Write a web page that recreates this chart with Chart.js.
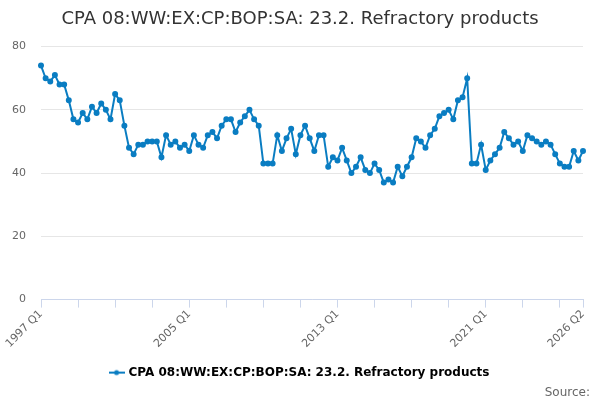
<!DOCTYPE html>
<html>
<head>
<meta charset="utf-8">
<script src="https://cdn.jsdelivr.net/npm/chart.js@4"></script>
<style>
  html, body { margin: 0; padding: 0; background: #fff; }
  #wrap { width: 600px; height: 400px; }
</style>
</head>
<body>
<div id="wrap"><canvas id="chart" width="600" height="400"></canvas></div>
<script>
// Quarterly series, 1997 Q1 .. 2026 Q2
const firstYear = 1997;
const values = [
  74, 70, 69, 71, 68, 68, 63, 57, 56, 59,
  57, 61, 59, 62, 60, 57, 65, 63, 55, 48,
  46, 49, 49, 50, 50, 50, 45, 52, 49, 50,
  48, 49, 47, 52, 49, 48, 52, 53, 51, 55,
  57, 57, 53, 56, 58, 60, 57, 55, 43, 43,
  43, 52, 47, 51, 54, 46, 52, 55, 51, 47,
  52, 52, 42, 45, 44, 48, 44, 40, 42, 45,
  41, 40, 43, 41, 37, 38, 37, 42, 39, 42,
  45, 51, 50, 48, 52, 54, 58, 59, 60, 57,
  63, 64, 70, 43, 43, 49, 41, 44, 46, 48,
  53, 51, 49, 50, 47, 52, 51, 50, 49, 50,
  49, 46, 43, 42, 42, 47, 44, 47
];
const quarters = values.map((v, i) => (firstYear + Math.floor(i / 4)) + ' Q' + (i % 4 + 1));
const shownLabels = ['1997 Q1', '2005 Q1', '2013 Q1', '2021 Q1', '2026 Q2'];
const yTicks = [0, 20, 40, 60, 80];

const seriesName = 'CPA 08:WW:EX:CP:BOP:SA: 23.2. Refractory products';
const lineColor = '#0a7dc2';

// legend icon: short line with a dot
const icon = document.createElement('canvas');
icon.width = 16; icon.height = 8;
const ic = icon.getContext('2d');
ic.strokeStyle = lineColor; ic.lineWidth = 2;
ic.beginPath(); ic.moveTo(0, 4); ic.lineTo(16, 4); ic.stroke();
ic.fillStyle = lineColor;
ic.beginPath(); ic.arc(8, 4, 2.5, 0, Math.PI * 2); ic.fill();

const lastIdx = values.length - 1;

new Chart(document.getElementById('chart'), {
  type: 'line',
  data: {
    labels: quarters,
    datasets: [{
      label: seriesName,
      data: values,
      borderColor: lineColor,
      backgroundColor: lineColor,
      borderWidth: 2,
      pointRadius: 2,
      pointHoverRadius: 3,
      tension: 0
    }]
  },
  options: {
    responsive: false,
    animation: false,
    layout: { padding: { left: 10, right: 10, top: 0, bottom: 0 } },
    plugins: {
      title: {
        display: true,
        text: 'CPA 08:WW:EX:CP:BOP:SA: 23.2. Refractory products',
        color: '#333333',
        font: { family: 'DejaVu Sans', size: 18, weight: 'normal' },
        padding: { top: 9, bottom: 16 }
      },
      subtitle: {
        display: true,
        position: 'bottom',
        align: 'end',
        text: 'Source:',
        color: '#666666',
        font: { family: 'DejaVu Sans', size: 12, weight: 'normal' },
        padding: { top: -3, bottom: 0 }
      },
      legend: {
        position: 'bottom',
        labels: {
          color: '#333333',
          font: { family: 'DejaVu Sans', size: 12, weight: 'bold' },
          usePointStyle: true,
          pointStyle: icon,
          padding: 4,
          generateLabels: (chart) => [{
            text: seriesName,
            fillStyle: lineColor,
            strokeStyle: lineColor,
            pointStyle: icon,
            lineWidth: 0,
            datasetIndex: 0
          }]
        }
      },
      tooltip: { enabled: false }
    },
    scales: {
      x: {
        afterFit: (axis) => {
          axis.height = 63;
          axis.paddingLeft = 0;
          axis.paddingRight = 17;
        },
        ticks: {
          autoSkip: false,
          maxRotation: 45,
          minRotation: 45,
          color: '#666666',
          font: { family: 'DejaVu Sans', size: 11 },
          padding: 0,
          callback: function (val, idx) {
            const lab = this.getLabelForValue(val);
            return shownLabels.includes(lab) ? lab : '';
          }
        },
        grid: {
          drawOnChartArea: false,
          drawTicks: true,
          tickLength: 8,
          tickColor: (ctx) => (ctx.index % 8 === 0 || ctx.index === lastIdx) ? '#ccd6eb' : 'rgba(0,0,0,0)'
        },
        border: { color: '#ccd6eb', width: 1 }
      },
      y: {
        min: 0,
        max: 80,
        afterBuildTicks: (axis) => { axis.ticks = yTicks.map(v => ({ value: v })); },
        afterFit: (axis) => { axis.width = 31; },
        ticks: {
          color: '#666666',
          font: { family: 'DejaVu Sans', size: 11 },
          padding: 15
        },
        grid: { color: '#e6e6e6', drawTicks: false },
        border: { display: false }
      }
    }
  }
});
</script>
</body>
</html>
